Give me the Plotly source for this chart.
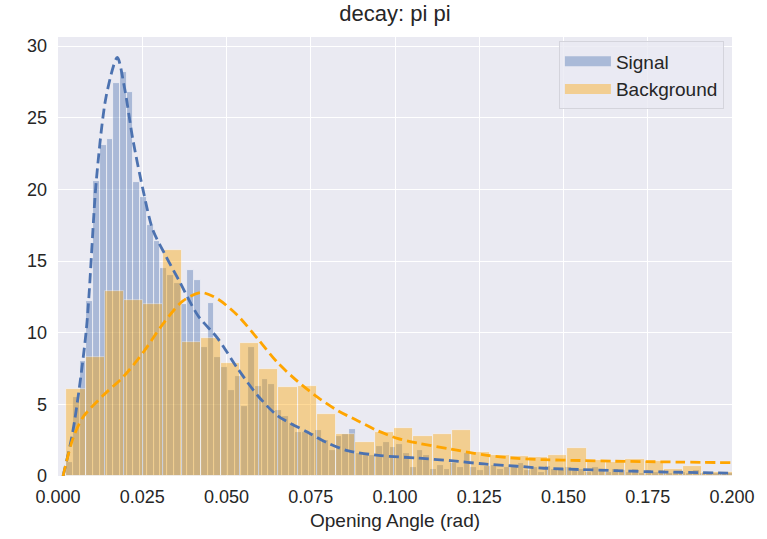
import plotly.graph_objects as go

# Histogram bins (density-normalised) for the two samples
signal_start = 0.0024
signal_width = 0.002
signal_density = [
    1.0, 5.5, 8.0, 12.2, 20.6, 23.1, 23.5, 27.4, 28.2, 26.8,
    20.5, 19.5, 17.5, 16.4, 14.5, 14.0, 13.5, 12.0, 14.4, 13.7,
    9.0, 12.1, 8.3, 7.6, 6.0, 7.0, 4.9, 9.0, 6.3, 6.8,
    6.4, 4.6, 4.2, 3.7, 3.1, 3.1, 3.0, 3.2, 2.5, 1.8,
    2.8, 2.9, 3.3, 1.6, 1.5, 1.5, 2.1, 2.4, 2.0, 2.2,
    1.6, 0.6, 1.8, 1.5, 0.5, 0.8, 0.5, 0.9, 0.6, 1.6,
    0.6, 0.4, 0.7, 0.8, 0.5, 0.6, 0.7, 0.9, 0.4, 0.6,
    0.3, 0.7, 0.5, 0.4, 0.6, 0.4, 0.5, 0.3, 0.6, 0.4,
    0.3, 0.5, 0.4, 0.3, 0.5, 0.2, 0.4, 0.3, 0.4, 0.2,
    0.3, 0.3, 0.2, 0.4, 0.2, 0.3, 0.2, 0.2, 0.2,
]

background_start = 0.00246
background_width = 0.00572
background_density = [
    6.07, 8.3, 12.9, 12.3, 12.0, 15.8, 9.35, 9.6, 7.9, 9.3,
    7.5, 6.2, 6.3, 4.3, 2.9, 2.4, 3.1, 3.35, 2.8, 2.9,
    3.2, 1.7, 1.5, 1.4, 1.3, 1.5, 1.93, 1.14, 1.0, 1.2,
    1.07, 0.5, 0.72, 0.3, 0.3,
]

# Smooth density estimates
signal_curve_x = [0.0015, 0.0044, 0.0084, 0.0114, 0.0143, 0.0176, 0.0198, 0.0222,
                  0.0252, 0.0281, 0.0321, 0.0360, 0.0415, 0.0474, 0.0533, 0.0593,
                  0.0652, 0.0741, 0.0800, 0.0859, 0.0958, 0.1067, 0.1165, 0.1264,
                  0.1363, 0.1442, 0.155, 0.165, 0.175, 0.185, 0.2]
signal_curve_y = [0.0, 3.1, 10.2, 20.7, 26.5, 29.2, 27.0, 23.5,
                  20.0, 17.2, 15.3, 13.6, 11.2, 9.6, 7.5, 5.6,
                  4.2, 3.05, 2.3, 1.77, 1.42, 1.25, 1.07, 0.84,
                  0.68, 0.54, 0.45, 0.38, 0.3, 0.26, 0.2]

background_curve_x = [0.0015, 0.0044, 0.0074, 0.0133, 0.0193, 0.0252, 0.0311, 0.0370,
                      0.0425, 0.0474, 0.0533, 0.0593, 0.0652, 0.0711, 0.0770, 0.0830,
                      0.0889, 0.0948, 0.1007, 0.1067, 0.1165, 0.1264, 0.1363, 0.1442,
                      0.155, 0.165, 0.175, 0.185, 0.2]
background_curve_y = [0.0, 2.6, 4.1, 5.6, 6.9, 8.6, 10.6, 12.2,
                      12.8, 12.35, 11.2, 9.56, 7.9, 6.6, 5.5, 4.56,
                      3.86, 3.16, 2.63, 2.3, 1.88, 1.47, 1.23, 1.14,
                      1.08, 1.03, 1.0, 0.97, 0.93]

x_ticks = [0.0, 0.025, 0.05, 0.075, 0.1, 0.125, 0.15, 0.175, 0.2]
y_ticks = [0, 5, 10, 15, 20, 25, 30]

BLUE = "#4C72B0"
ORANGE = "#FFA500"
FONT = "Liberation Sans, Arial, sans-serif"
TEXT = "#262626"

signal_left = [signal_start + i * signal_width for i in range(len(signal_density))]
background_left = [background_start + i * background_width for i in range(len(background_density))]

fig = go.Figure()

fig.add_trace(go.Bar(
    x=signal_left, y=signal_density, width=signal_width, offset=0,
    marker=dict(color=BLUE, line=dict(color="white", width=0.8)),
    opacity=0.4, showlegend=False, hoverinfo="skip",
))
fig.add_trace(go.Bar(
    x=background_left, y=background_density, width=background_width, offset=0,
    marker=dict(color=ORANGE, line=dict(color="white", width=0.8)),
    opacity=0.4, showlegend=False, hoverinfo="skip",
))

fig.add_trace(go.Scatter(
    x=signal_curve_x, y=signal_curve_y, mode="lines",
    line=dict(color=BLUE, width=2.8, dash="10px,5px", shape="spline", smoothing=0.8),
    showlegend=False, hoverinfo="skip",
))
fig.add_trace(go.Scatter(
    x=background_curve_x, y=background_curve_y, mode="lines",
    line=dict(color=ORANGE, width=2.8, dash="10px,5px", shape="spline", smoothing=0.8),
    showlegend=False, hoverinfo="skip",
))

# Legend patches
for name, color in [("Signal", BLUE), ("Background", ORANGE)]:
    fig.add_trace(go.Scatter(
        x=[None], y=[None], mode="lines", name=name,
        line=dict(color=color, width=13), opacity=0.4,
    ))

fig.update_layout(
    width=767, height=539,
    margin=dict(l=58, r=32, t=37, b=62),
    paper_bgcolor="white",
    plot_bgcolor="#EAEAF2",
    barmode="overlay",
    bargap=0,
    font=dict(family=FONT, size=18, color=TEXT),
    title=dict(text="decay: pi pi", x=0.5, xref="paper", xanchor="center",
               y=1 - 13 / 539, yref="container", yanchor="middle",
               font=dict(family=FONT, size=22, color=TEXT)),
    legend=dict(
        x=0.988, y=0.99, xanchor="right", yanchor="top",
        bgcolor="rgba(234,234,242,0.8)", bordercolor="#d4d4dc", borderwidth=1,
        font=dict(family=FONT, size=19, color=TEXT),
        itemwidth=46, tracegroupgap=2,
    ),
    xaxis=dict(
        range=[0, 0.2], tickvals=x_ticks, tickformat=".3f",
        showgrid=True, gridcolor="white", gridwidth=1.3,
        zeroline=False, showline=False, ticks="",
        tickfont=dict(size=18), ticklabelstandoff=8,
        title=dict(text="Opening Angle (rad)", font=dict(size=19), standoff=7),
    ),
    yaxis=dict(
        range=[0, 30.63], tickvals=y_ticks,
        showgrid=True, gridcolor="white", gridwidth=1.3,
        zeroline=False, showline=False, ticks="",
        tickfont=dict(size=18), ticklabelstandoff=10,
    ),
)

fig.write_html("out.html")
